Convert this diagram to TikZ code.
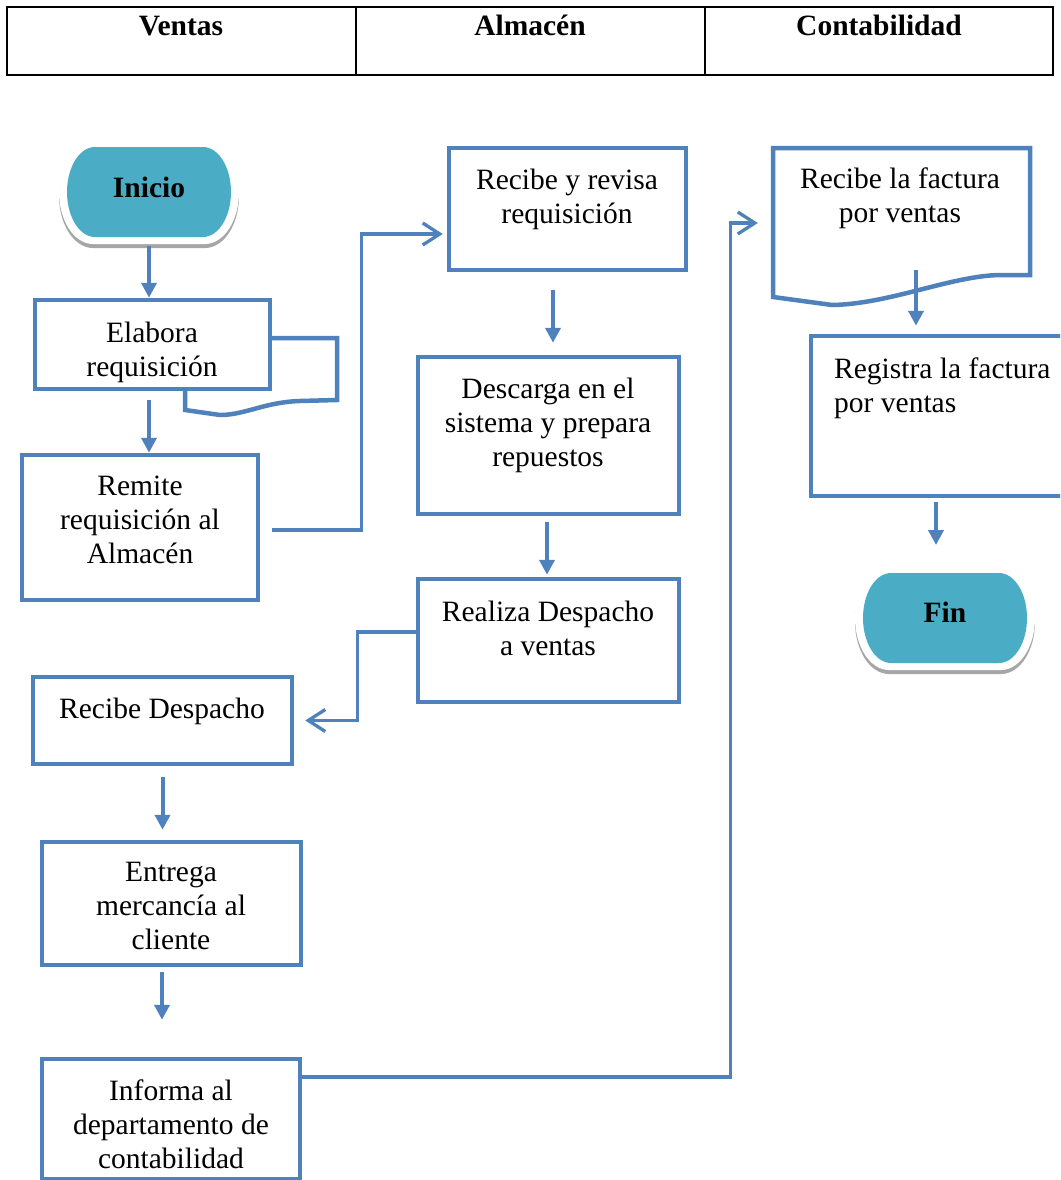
\documentclass[tikz,border=0pt]{standalone}
\usepackage{fontspec}
\setmainfont{Liberation Serif}
\usepackage{tikz}
\usetikzlibrary{arrows.meta,calc,positioning}
\definecolor{flujo-azul}{HTML}{4F81BD}
\definecolor{flujo-aqua}{HTML}{4BACC6}
\definecolor{flujo-sombra}{HTML}{A6A6A6}

% contorno de pildora: semiancho, semialto, radio de los extremos
\newcommand{\pildorapath}[3]{(-#1+#3,-#2) -- (#1-#3,-#2)
  arc[start angle=-90,end angle=90,x radius=#3,y radius=#2] -- (-#1+#3,#2)
  arc[start angle=90,end angle=270,x radius=#3,y radius=#2] -- cycle}
% terminador con sombra
\newcommand{\terminador}[1]{%
  \begin{scope}[shift={(#1)}]
    \fill[flujo-sombra] [shift={(0,4)}] \pildorapath{90}{52}{34};
    \fill[white] \pildorapath{90}{52}{34};
    \fill[flujo-aqua] \pildorapath{82}{45}{28};
  \end{scope}}

\begin{document}
\begin{tikzpicture}[x=1pt,y=-1pt,
  font=\fontsize{29.5}{34}\selectfont,
  caja/.style={draw=flujo-azul,line width=4.5pt,fill=white,inner sep=0pt},
  texto/.style={align=center,inner sep=0pt},
  negrita/.style={font=\fontsize{29.5}{34}\selectfont\bfseries},
  flecha/.style={flujo-azul,line width=4pt,-{Triangle[width=15pt,length=15pt]}},
  enlace/.style={flujo-azul,line width=3.3pt,-{Straight Barb[width=22pt,length=17pt]}}]
  \useasboundingbox (0,0) rectangle (1060,1180);
  \clip (0,0) rectangle (1060,1180);

  % Encabezado
  \draw[line width=2pt] (7,7) rectangle (1053,75);
  \draw[line width=2pt] (356,7) -- (356,75) (705,7) -- (705,75);
  \foreach \x/\col [count=\i] in {181/Ventas,530/Almacén,879/Contabilidad}
    \node[anchor=base,negrita] (col-\i) at (\x,36) {\col};

  % Ventas
  \coordinate (inicio) at (149,192);
  \terminador{inicio}
  \node[texto,negrita] (inicio-t) at (149,187) {Inicio};

  \draw[caja] (185,338) -- (337,338) -- (337,400) -- (300,401)
    .. controls (265,402) and (245,415) .. (220,415) -- (185,410) -- cycle;
  \node[caja,minimum width=235pt,minimum height=89pt] (elab) at (152.5,344.5) {};
  \node[texto] (elab-t) at (152,352) {Elabora\\requisición};

  \node[caja,minimum width=236pt,minimum height=145pt] (remite) at (140,527.5) {};
  \node[texto] (remite-t) at (140,520) {Remite\\requisición al\\Almacén};

  \node[caja,minimum width=259pt,minimum height=87pt] (recdesp) at (162.5,720.5) {};
  \node[texto] (recdesp-t) at (162,711) {Recibe Despacho};

  \node[caja,minimum width=259pt,minimum height=123pt] (entrega) at (171.5,903.5) {};
  \node[texto] (entrega-t) at (171,906) {Entrega\\mercancía al\\cliente};

  \node[caja,minimum width=258pt,minimum height=120pt] (informa) at (171,1119) {};
  \node[texto] (informa-t) at (171,1124) {Informa al\\departamento de\\contabilidad};

  % Almacen
  \node[caja,minimum width=237pt,minimum height=122pt] (revisa) at (567.5,209) {};
  \node[texto] (revisa-t) at (567,199) {Recibe y revisa\\requisición};

  \node[caja,minimum width=261pt,minimum height=157pt] (descarga) at (548.5,435.5) {};
  \node[texto] (descarga-t) at (548,425) {Descarga en el\\sistema y prepara\\repuestos};

  \node[caja,minimum width=261pt,minimum height=123pt] (realiza) at (548.5,640.5) {};
  \node[texto] (realiza-t) at (548,628) {Realiza Despacho\\a ventas};

  % Contabilidad
  \draw[caja] (773,148) -- (1030,148) -- (1030,275) -- (1000,275)
    .. controls (950,276) and (890,304) .. (832,305) -- (773,297) -- cycle;
  \node[inner sep=0pt,minimum width=257pt,minimum height=127pt] (factura) at (901.5,211.5) {};
  \node[texto] (factura-t) at (900,198) {Recibe la factura\\por ventas};

  \node[caja,minimum width=259pt,minimum height=160pt] (registra) at (940.5,416) {};
  \node[texto,align=left,anchor=north west] (registra-t) at (834,358) {Registra la factura\\por ventas};

  \coordinate (fin) at (945,618);
  \terminador{fin}
  \node[texto,negrita] (fin-t) at (945,612) {Fin};

  % Flechas rectas
  \draw[flecha] ([yshift=-54pt]inicio) -- (elab.north -| inicio);
  \draw[flecha] ([yshift=-9pt]elab.south -| inicio) -- (remite.north -| inicio);
  \draw[flecha] ([xshift=-14.5pt,yshift=-18pt]revisa.south) -- ([xshift=4.5pt,yshift=12pt]descarga.north);
  \draw[flecha] ([xshift=-1.5pt,yshift=-6pt]descarga.south) -- ([xshift=-1.5pt,yshift=2pt]realiza.north);
  \draw[flecha] ([yshift=-11pt]recdesp.south) -- ([xshift=-9pt,yshift=10pt]entrega.north);
  \draw[flecha] ([xshift=-9.5pt,yshift=-5pt]entrega.south) -- ([xshift=-9pt,yshift=37pt]informa.north);
  \draw[flecha] ([xshift=14.5pt,yshift=5pt]factura.south) -- ([xshift=-24.5pt,yshift=8pt]registra.north);
  \draw[flecha] ([xshift=-4.5pt,yshift=-4pt]registra.south) -- ([xshift=-9pt,yshift=73pt]fin);

  % Conectores entre areas
  \draw[enlace] ([xshift=12pt,yshift=-2.5pt]remite.east) -- ++(89,0) |- ([xshift=-4pt,yshift=-25pt]revisa.west);
  \draw[enlace] ([yshift=8.5pt]realiza.west) -- ++(-58,0) |- ([xshift=11pt]recdesp.east);
  \draw[enlace] ([yshift=42pt]informa.east) -- ++(428,0) |- ([xshift=-15pt,yshift=-11.5pt]factura.west);
\end{tikzpicture}
\end{document}
